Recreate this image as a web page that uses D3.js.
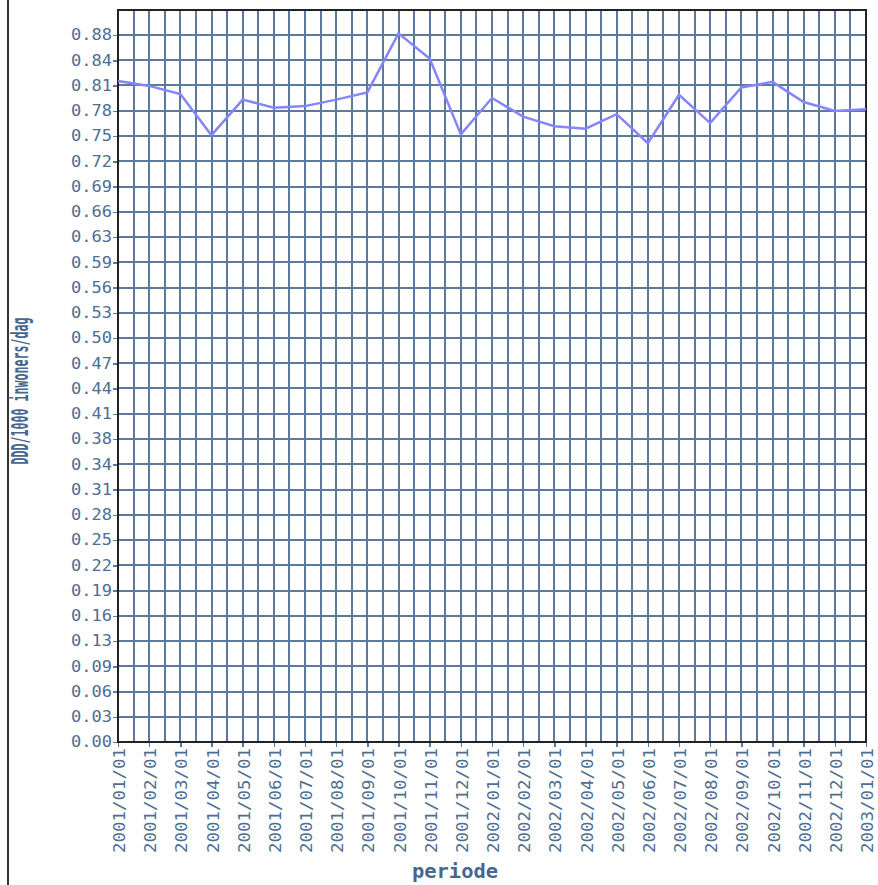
<!DOCTYPE html>
<html>
<head>
    <meta charset="utf-8">
    <title>DDD/1000 inwoners/dag</title>
    <style>
        body { margin: 0; background: #fff; }
        .grid line { stroke: #5b7a9d; stroke-width: 2px; shape-rendering: crispEdges; }
        .axis path { display: none; }
        .axis line { stroke: #5b7a9d; stroke-width: 1.5px; shape-rendering: crispEdges; }
        .axis text { fill: #4f6e92; font-family: "DejaVu Sans Mono", monospace; }
        .frame { fill: none; stroke: #222; stroke-width: 2px; shape-rendering: crispEdges; }
        .title { fill: #46678e; font-family: "DejaVu Sans Mono", monospace; font-weight: bold; }
    </style>
</head>
<body>
<div id="vis"></div>
<script src="https://cdn.jsdelivr.net/npm/d3@7/dist/d3.min.js"></script>
<script>
    // monthly periods
    var periods = [
        "2001/01/01", "2001/02/01", "2001/03/01", "2001/04/01", "2001/05/01", "2001/06/01",
        "2001/07/01", "2001/08/01", "2001/09/01", "2001/10/01", "2001/11/01", "2001/12/01",
        "2002/01/01", "2002/02/01", "2002/03/01", "2002/04/01", "2002/05/01", "2002/06/01",
        "2002/07/01", "2002/08/01", "2002/09/01", "2002/10/01", "2002/11/01", "2002/12/01",
        "2003/01/01"
    ];

    // DDD/1000 inwoners/dag
    var values = [
        0.818, 0.812, 0.802, 0.751, 0.795, 0.785,
        0.787, 0.795, 0.804, 0.877, 0.846, 0.752,
        0.797, 0.774, 0.762, 0.759, 0.777, 0.741,
        0.801, 0.766, 0.810, 0.817, 0.792, 0.781,
        0.783
    ];

    var yTickLabels = [
        "0.00", "0.03", "0.06", "0.09", "0.13", "0.16", "0.19", "0.22", "0.25", "0.28",
        "0.31", "0.34", "0.38", "0.41", "0.44", "0.47", "0.50", "0.53", "0.56", "0.59",
        "0.63", "0.66", "0.69", "0.72", "0.75", "0.78", "0.81", "0.84", "0.88"
    ];

    var yStep = 0.03125;

    var width = 878, height = 885;
    var plotLeft = 118, plotRight = 866, plotBottom = 742;
    var plotTop = plotBottom - 29 * 25.25;

    var svg = d3.select("#vis").append("svg")
            .attr("width", width)
            .attr("height", height);

    var x = d3.scaleLinear()
            .domain([0, periods.length - 1])
            .range([plotLeft, plotRight]);

    var y = d3.scaleLinear()
            .domain([0, yStep * yTickLabels.length])
            .range([plotBottom, plotTop]);

    var yTicks = yTickLabels.map(function(d, i) { return i * yStep; });

    // page border on the left
    svg.append("line")
            .attr("x1", 8).attr("x2", 8)
            .attr("y1", 0).attr("y2", height)
            .attr("stroke", "#333")
            .attr("stroke-width", 2);

    // grid
    var grid = svg.append("g").attr("class", "grid");
    grid.selectAll(".h")
            .data(yTicks.concat([yStep * yTickLabels.length]))
            .enter().append("line")
            .attr("x1", plotLeft).attr("x2", plotRight)
            .attr("y1", function(d) { return Math.round(y(d)); })
            .attr("y2", function(d) { return Math.round(y(d)); });
    grid.selectAll(".v")
            .data(d3.range(0, periods.length - 0.5, 0.5))
            .enter().append("line")
            .attr("y1", plotTop).attr("y2", plotBottom)
            .attr("x1", function(d) { return Math.round(x(d)); })
            .attr("x2", function(d) { return Math.round(x(d)); });

    // y axis
    var yAxis = svg.append("g")
            .attr("class", "axis")
            .attr("transform", "translate(" + plotLeft + ",0)")
            .call(d3.axisLeft(y)
                .tickValues(yTicks)
                .tickSize(5)
                .tickPadding(1)
                .tickFormat(function(d, i) { return yTickLabels[i]; }));
    yAxis.selectAll("text")
            .attr("font-size", 15)
            .attr("textLength", 41)
            .attr("lengthAdjust", "spacingAndGlyphs");

    // x axis
    var xAxis = svg.append("g")
            .attr("class", "axis")
            .attr("transform", "translate(0," + plotBottom + ")")
            .call(d3.axisBottom(x)
                .tickValues(d3.range(periods.length))
                .tickSize(5)
                .tickFormat(function(d) { return periods[d]; }));
    xAxis.selectAll("text")
            .attr("font-size", 16)
            .attr("textLength", 105)
            .attr("lengthAdjust", "spacingAndGlyphs")
            .attr("text-anchor", "end")
            .attr("transform", "rotate(-90)")
            .attr("x", -6)
            .attr("y", 1)
            .attr("dy", "0.35em");

    // frame
    svg.append("rect")
            .attr("class", "frame")
            .attr("x", plotLeft).attr("y", Math.round(plotTop))
            .attr("width", plotRight - plotLeft)
            .attr("height", plotBottom - Math.round(plotTop));

    // data line
    var line = d3.line()
            .x(function(d, i) { return x(i); })
            .y(function(d) { return y(d); });

    svg.append("path")
            .datum(values)
            .attr("d", line)
            .attr("fill", "none")
            .attr("stroke", "#8585ff")
            .attr("stroke-width", 2.5);

    // axis titles
    svg.append("text")
            .attr("class", "title")
            .attr("font-size", 23)
            .attr("textLength", 147)
            .attr("lengthAdjust", "spacingAndGlyphs")
            .attr("text-anchor", "middle")
            .attr("transform", "translate(28,391) rotate(-90)")
            .text("DDD/1000 inwoners/dag");

    svg.append("text")
            .attr("class", "title")
            .attr("font-size", 19)
            .attr("textLength", 86)
            .attr("lengthAdjust", "spacingAndGlyphs")
            .attr("text-anchor", "middle")
            .attr("x", 455)
            .attr("y", 878)
            .text("periode");
</script>
</body>
</html>
